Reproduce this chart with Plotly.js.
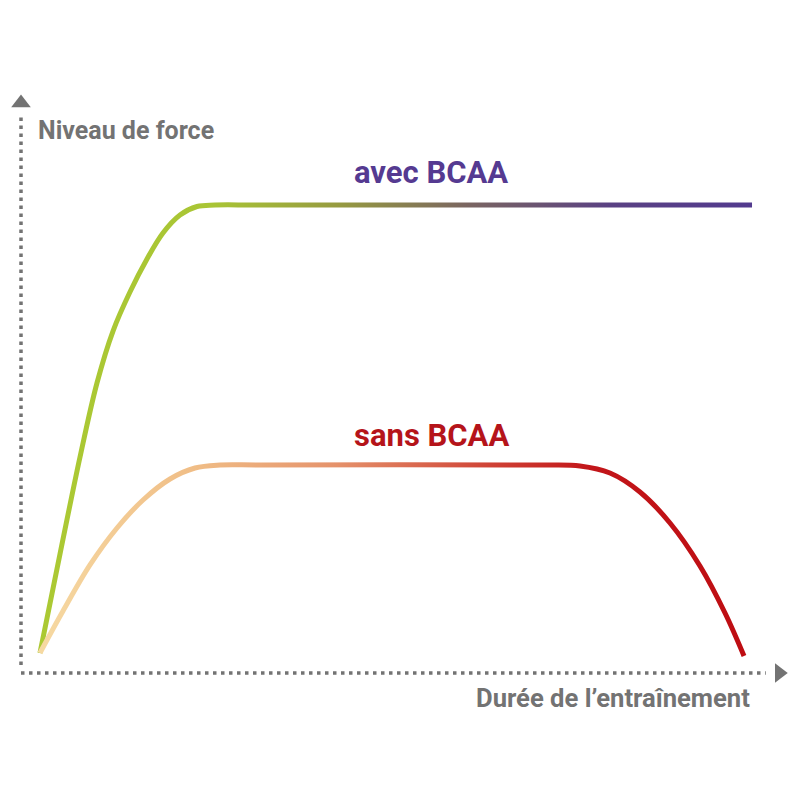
<!DOCTYPE html>
<html>
<head>
<meta charset="utf-8">
<script src="https://cdn.plot.ly/plotly-3.0.1.min.js"></script>
<style>html,body{margin:0;padding:0;background:#fff;}#chart{width:800px;height:800px;}</style>
</head>
<body>
<div id="chart"></div>
<script>
// Data (arbitrary units: time 0-100, force level 0-100)
var avecTime  = [2.53, 5.2, 7.87, 10.13, 12.27, 14.53, 16.8, 18.93, 21.2, 23.47, 25.87, 31.87, 97.47];
var avecForce = [3.54, 21.06, 38.23, 51.33, 60.53, 67.43, 73.27, 77.88, 81.06, 82.57, 82.83, 82.83, 82.83];
var sansTime  = [2.53, 5.6, 9.2, 12.8, 16.27, 19.87, 23.2, 26.53, 31.87, 69.2, 74.53, 78.53, 82.53, 86.53, 90.53, 93.87, 96.4];
var sansForce = [3.54, 10.97, 19.12, 25.66, 30.62, 34.34, 36.28, 36.81, 36.81, 36.81, 36.64, 35.4, 32.04, 26.55, 18.94, 10.62, 3.01];
var seriesNames = ["avec BCAA", "sans BCAA"];
var axisLabels = ["Niveau de force", "Durée de l\u2019entraînement"];

var FONT = "Roboto, Liberation Sans, sans-serif";
var GREY = "#737373";

var traces = [
  {x: avecTime, y: avecForce, name: seriesNames[0], mode: "lines",
   line: {shape: "spline", smoothing: 1, width: 5, color: "#a9c636"}, hoverinfo: "skip"},
  {x: sansTime, y: sansForce, name: seriesNames[1], mode: "lines",
   line: {shape: "spline", smoothing: 1, width: 5, color: "#e58a5c"}, hoverinfo: "skip"},
  // arrow heads at the ends of the axes
  {x: [0], y: [100.9], mode: "markers", hoverinfo: "skip",
   marker: {symbol: "triangle-up", size: 17, color: GREY}},
  {x: [101.1], y: [0], mode: "markers", hoverinfo: "skip",
   marker: {symbol: "triangle-right", size: 17, color: GREY}}
];

var layout = {
  width: 800, height: 800,
  margin: {l: 0, r: 0, t: 0, b: 0, pad: 0},
  paper_bgcolor: "#fff", plot_bgcolor: "#fff",
  showlegend: false,
  xaxis: {range: [-2.8, 103.867], visible: false, fixedrange: true},
  yaxis: {range: [-22.478, 119.115], visible: false, fixedrange: true},
  shapes: [
    {type: "line", xref: "x", yref: "y", x0: 0, x1: 0, y0: 1.4, y1: 99.1,
     line: {color: GREY, width: 3.5, dash: "3.5px,4.5px"}},
    {type: "line", xref: "x", yref: "y", x0: 0, x1: 99.3, y0: 0, y1: 0,
     line: {color: GREY, width: 3.5, dash: "3.5px,4.5px"}}
  ],
  annotations: [
    {x: 54.7, y: 88.6, xref: "x", yref: "y", text: seriesNames[0], showarrow: false,
     font: {family: FONT, size: 31, color: "#553a91", weight: "bold"}},
    {x: 54.7, y: 42.0, xref: "x", yref: "y", text: seriesNames[1], showarrow: false,
     font: {family: FONT, size: 31, color: "#b5141a", weight: "bold"}},
    {x: 2.0, y: 96.0, xref: "x", yref: "y", xanchor: "left", text: axisLabels[0], showarrow: false,
     font: {family: FONT, size: 25, color: GREY, weight: "bold"}},
    {x: 97.4, y: -4.4, xref: "x", yref: "y", xanchor: "right", text: axisLabels[1], showarrow: false,
     font: {family: FONT, size: 25.6, color: GREY, weight: "bold"}}
  ]
};

function addGradient(svg, id, stops) {
  var ns = "http://www.w3.org/2000/svg";
  var defs = svg.querySelector("defs");
  if (!defs) { defs = document.createElementNS(ns, "defs"); svg.insertBefore(defs, svg.firstChild); }
  var g = document.createElementNS(ns, "linearGradient");
  g.setAttribute("id", id);
  g.setAttribute("x1", "0"); g.setAttribute("y1", "0");
  g.setAttribute("x2", "1"); g.setAttribute("y2", "0");
  stops.forEach(function (s) {
    var st = document.createElementNS(ns, "stop");
    st.setAttribute("offset", s[0]);
    st.setAttribute("stop-color", s[1]);
    g.appendChild(st);
  });
  defs.appendChild(g);
}

Plotly.newPlot("chart", traces, layout, {displayModeBar: false, staticPlot: true}).then(function (gd) {
  var svg = gd.querySelector(".main-svg");
  addGradient(svg, "gradAvec", [[0, "#abc933"], [0.24, "#a9c535"], [0.42, "#969a40"], [0.6, "#7a6561"], [0.8, "#5a4183"], [1, "#523a8e"]]);
  addGradient(svg, "gradSans", [[0, "#f6d9a2"], [0.22, "#f0bd86"], [0.42, "#e5926b"], [0.64, "#cf4235"], [0.78, "#c2161a"], [1, "#be0d12"]]);
  var lines = gd.querySelectorAll(".scatterlayer .trace path.js-line");
  if (lines[0]) lines[0].style.stroke = "url(#gradAvec)";
  if (lines[1]) lines[1].style.stroke = "url(#gradSans)";
});
</script>
</body>
</html>
